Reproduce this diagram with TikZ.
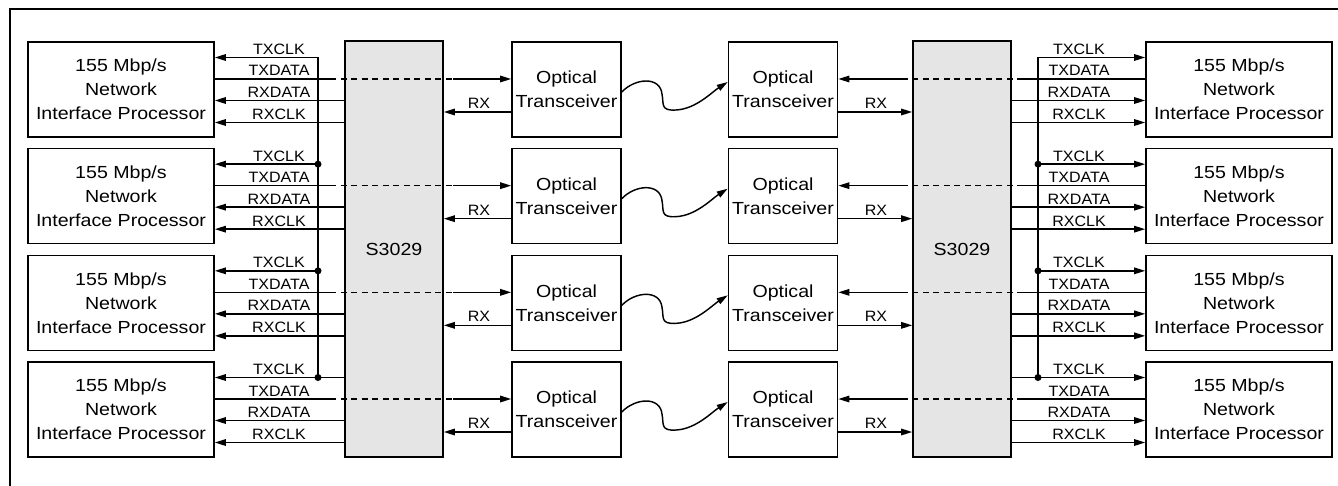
\documentclass[tikz,border=0pt]{standalone}
\usepackage{fontspec}
\setmainfont{Liberation Sans}
\newfontfamily\boxfont{Liberation Sans}[FakeStretch=1.12]
\newfontfamily\lblfont{Liberation Sans}[FakeStretch=1.07]
\usetikzlibrary{arrows.meta,calc}
\begin{document}
\begin{tikzpicture}[x=1pt,y=-1pt,
  nip/.style={draw,line width=1.6pt,minimum width=186pt,minimum height=95pt,inner sep=0pt,align=center,font=\boxfont\fontsize{17.5}{24}\selectfont},
  opt/.style={draw,line width=1.6pt,minimum width=109pt,minimum height=95pt,inner sep=0pt,align=center,font=\boxfont\fontsize{17.5}{24}\selectfont},
  chip/.style={draw,line width=1.6pt,fill=gray!20,minimum width=98pt,minimum height=416pt,inner sep=0pt,font=\boxfont\fontsize{17.5}{24}\selectfont},
  sig/.style={line width=1.45pt},
  arr/.style={sig,-{Triangle[length=11pt,width=6.5pt]}},
  dsh/.style={sig,dash pattern=on 6pt off 4.5pt},
  lbl/.style={font=\lblfont\fontsize{15}{18}\selectfont,inner sep=0pt,anchor=base},
  jdot/.style={circle,fill,inner sep=0pt,minimum size=7pt}
]
\useasboundingbox (0,0) rectangle (1338,486);
\draw[line width=2.2pt] (10,486) -- (10,9) -- (1338,9);

\node[chip] (sL) at (394,249) {S3029};
\node[chip] (sR) at (962,249) {S3029};

\foreach \k in {0,1,2,3} {
  \pgfmathsetmacro\t{42+\k*106.67}
  \pgfmathsetmacro\c{\t+47.5}
  \pgfmathsetmacro\ya{\t+15.5}
  \pgfmathsetmacro\yb{\t+37}
  \pgfmathsetmacro\yc{\t+58.5}
  \pgfmathsetmacro\yd{\t+80.5}
  \pgfmathsetmacro\yr{\t+70}
  \node[nip] (nl\k) at (121,\c) {155 Mbp/s\\Network\\Interface Processor};
  \node[opt] (ol\k) at (566.5,\c) {Optical\\Transceiver};
  \node[opt] (or\k) at (783,\c) {Optical\\Transceiver};
  \node[nip] (nr\k) at (1239,\c) {155 Mbp/s\\Network\\Interface Processor};
  \coordinate (tcl\k) at (318,\ya);
  \coordinate (tcr\k) at (1038,\ya);
  \coordinate (tdla\k) at (330,\yb);
  \coordinate (tdlb\k) at (453,\yb);
  \coordinate (tdra\k) at (1023,\yb);
  \coordinate (tdrb\k) at (902,\yb);
  \coordinate (rd\k) at (0,\yc);
  \coordinate (rc\k) at (0,\yd);
  \coordinate (rx\k) at (0,\yr);
  \coordinate (fs\k) at (0,\t+50);
  \coordinate (fe\k) at (0,\t+40);
  % TXCLK
  \ifnum\k<3
    \draw[arr] (tcl\k) -- (nl\k.east |- tcl\k);
    \draw[arr] (tcr\k) -- (nr\k.west |- tcr\k);
  \else
    \draw[arr] (sL.west |- tcl\k) -- (nl\k.east |- tcl\k);
    \draw[arr] (sR.east |- tcr\k) -- (nr\k.west |- tcr\k);
  \fi
  \ifnum\k>0
    \node[jdot] (jl\k) at (tcl\k) {};
    \node[jdot] (jr\k) at (tcr\k) {};
  \fi
  % TXDATA
  \draw[sig] (nl\k.east |- tdla\k) -- (tdla\k);
  \draw[dsh] (tdla\k) -- (tdlb\k);
  \draw[arr] (tdlb\k) -- (ol\k.west |- tdlb\k);
  \draw[sig] (nr\k.west |- tdra\k) -- (tdra\k);
  \draw[dsh] (tdra\k) -- (tdrb\k);
  \draw[arr] (tdrb\k) -- (or\k.east |- tdrb\k);
  % RXDATA / RXCLK
  \draw[arr] (sL.west |- rd\k) -- (nl\k.east |- rd\k);
  \draw[arr] (sL.west |- rc\k) -- (nl\k.east |- rc\k);
  \draw[arr] (sR.east |- rd\k) -- (nr\k.west |- rd\k);
  \draw[arr] (sR.east |- rc\k) -- (nr\k.west |- rc\k);
  % RX
  \draw[arr] (ol\k.west |- rx\k) -- (sL.east |- rx\k);
  \draw[arr] (or\k.east |- rx\k) -- (sR.west |- rx\k);
  % fiber
  \draw[arr] (ol\k.east |- fs\k) .. controls (635,\t+36) and (660,\t+34) .. (662,\t+52)
     .. controls (664,\t+62) and (660,\t+69) .. (676,\t+68)
     .. controls (696,\t+67) and (712,\t+50) .. (or\k.west |- fe\k);
  % labels
  \node[lbl] (ltc\k) at (279,\ya-3) {TXCLK};
  \node[lbl] (ltd\k) at (279,\yb-3) {TXDATA};
  \node[lbl] (lrd\k) at (279,\yc-3) {RXDATA};
  \node[lbl] (lrc\k) at (279,\yd-3) {RXCLK};
  \node[lbl] (rtc\k) at (1079,\ya-3) {TXCLK};
  \node[lbl] (rtd\k) at (1079,\yb-3) {TXDATA};
  \node[lbl] (rrd\k) at (1079,\yc-3) {RXDATA};
  \node[lbl] (rrc\k) at (1079,\yd-3) {RXCLK};
  \node[lbl] (lrx\k) at (479,\yr-3.5) {RX};
  \node[lbl] (rrx\k) at (876,\yr-3.5) {RX};
}
\draw[sig] (tcl0) -- (tcl3);
\draw[sig] (tcr0) -- (tcr3);
\end{tikzpicture}
\end{document}
